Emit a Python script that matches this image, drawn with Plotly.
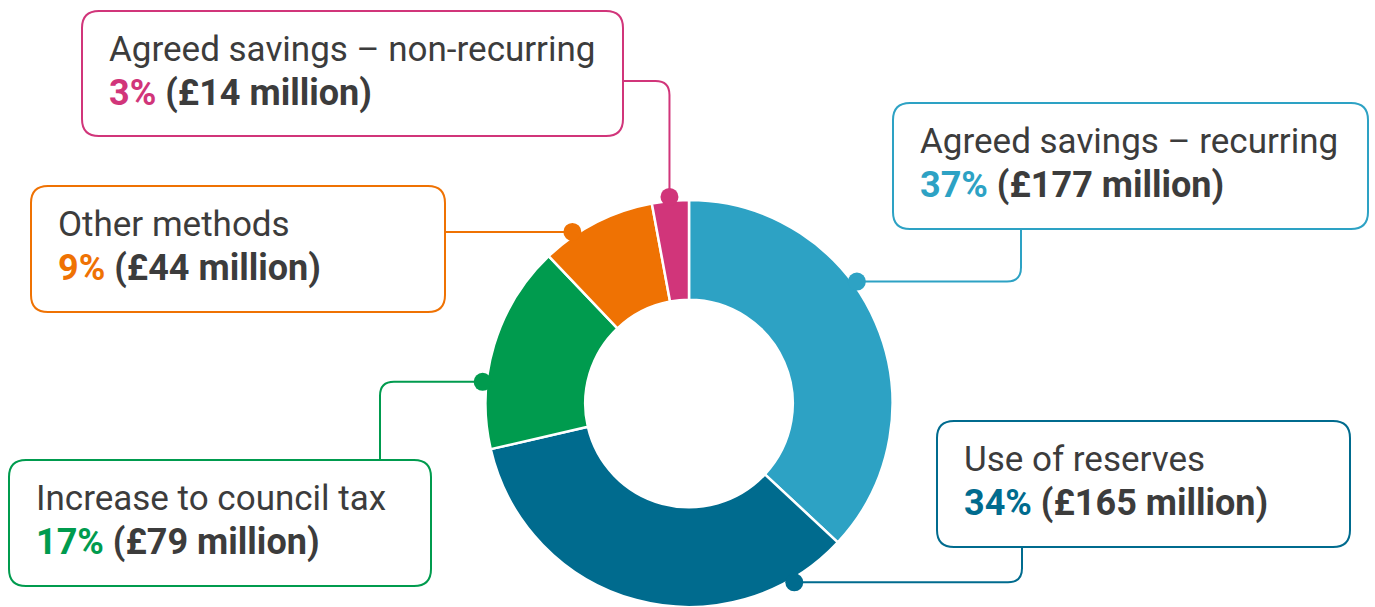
import math
import plotly.graph_objects as go

# ---------------- data ----------------
labels = ["Agreed savings – recurring", "Use of reserves", "Increase to council tax",
          "Other methods", "Agreed savings – non-recurring"]
values_m = [177, 165, 79, 44, 14]          # £ million
pct_shown = [37, 34, 17, 9, 3]             # percentages as printed
colors = ["#2DA2C4", "#006B8E", "#009B4E", "#EF7203", "#D1357A"]

# ---------------- layout constants (pixels) ----------------
W, H = 1375, 607
CX, CY, R = 689, 403.5, 203.5
HOLE = 0.51
TEXT = "#3C3C3C"
FONT = "Roboto"

# callout boxes: left, top, right, bottom
boxes = [(893, 103, 1368, 229), (937, 421, 1350, 547), (9, 460, 431, 586),
         (31, 186, 445, 312), (82, 11, 623, 136)]
dot_angles = [54, 149.5, 276, 325.8, 354.6]   # degrees clockwise from 12 o'clock
DOT_R = R + 4
# connector start on box: (x, y, kind)
starts = [(1021, 229, "down"), (1022, 547, "down"), (380, 460, "up"),
          (445, 234, "h"), (623, 81, "right_down")]

fig = go.Figure()
fig.add_trace(go.Pie(
    labels=labels, values=values_m, sort=False, direction="clockwise", rotation=0,
    hole=HOLE, marker=dict(colors=colors, line=dict(color="white", width=2.5)),
    textinfo="none", hoverinfo="skip", showlegend=False,
    domain=dict(x=[(CX - R) / W, (CX + R) / W], y=[(H - CY - R) / H, (H - CY + R) / H]),
))
# invisible pixel axes for overlays
fig.add_trace(go.Scatter(x=[0, W], y=[0, H], mode="markers", marker=dict(opacity=0),
                         hoverinfo="skip", showlegend=False))

shapes = []
annotations = []


def rrect(x0, y0, x1, y1, r):
    return (f"M {x0+r},{y0} L {x1-r},{y0} Q {x1},{y0} {x1},{y0+r} L {x1},{y1-r} "
            f"Q {x1},{y1} {x1-r},{y1} L {x0+r},{y1} Q {x0},{y1} {x0},{y1-r} "
            f"L {x0},{y0+r} Q {x0},{y0} {x0+r},{y0} Z")


for i, lab in enumerate(labels):
    c = colors[i]
    x0, y0, x1, y1 = boxes[i]
    shapes.append(dict(type="path", path=rrect(x0, y0, x1, y1, 17), xref="x", yref="y",
                       line=dict(color=c, width=2), fillcolor="white", layer="above"))
    a = math.radians(dot_angles[i])
    dx = CX + DOT_R * math.sin(a)
    dy = CY - DOT_R * math.cos(a)
    sx, sy, kind = starts[i]
    rc = 14
    if kind == "down":
        p = f"M {sx},{sy} L {sx},{dy-rc} Q {sx},{dy} {sx-rc},{dy} L {dx},{dy}"
    elif kind == "up":
        p = f"M {sx},{sy} L {sx},{dy+rc} Q {sx},{dy} {sx+rc},{dy} L {dx},{dy}"
    elif kind == "h":
        p = f"M {sx},{dy} L {dx},{dy}"
    else:
        p = f"M {sx},{sy} L {dx-rc},{sy} Q {dx},{sy} {dx},{sy+rc} L {dx},{dy}"
    shapes.append(dict(type="path", path=p, xref="x", yref="y",
                       line=dict(color=c, width=2), layer="above"))
    dr = 9
    shapes.append(dict(type="circle", x0=dx - dr, x1=dx + dr, y0=dy - dr, y1=dy + dr,
                       xref="x", yref="y", fillcolor=c, line=dict(width=0), layer="above"))
    tx = x0 + 25
    annotations.append(dict(x=tx, y=y0 + 38, xref="x", yref="y", text=lab, showarrow=False,
                            xanchor="left", yanchor="middle",
                            font=dict(family=FONT, size=35, color=TEXT)))
    annotations.append(dict(x=tx, y=y0 + 82, xref="x", yref="y",
                            text=f"<b><span style='color:{c}'>{pct_shown[i]}%</span> (£{values_m[i]} million)</b>",
                            showarrow=False, xanchor="left", yanchor="middle",
                            font=dict(family=FONT, size=36, color=TEXT)))

fig.update_layout(
    width=W, height=H, margin=dict(l=0, r=0, t=0, b=0),
    paper_bgcolor="white", plot_bgcolor="white",
    xaxis=dict(range=[0, W], visible=False, fixedrange=True, domain=[0, 1]),
    yaxis=dict(range=[H, 0], visible=False, fixedrange=True, domain=[0, 1]),
    shapes=shapes, annotations=annotations, showlegend=False,
)
fig.write_html("out.html", config={"displayModeBar": False},
               post_script="document.body.style.margin='0';document.body.style.overflow='hidden';")
